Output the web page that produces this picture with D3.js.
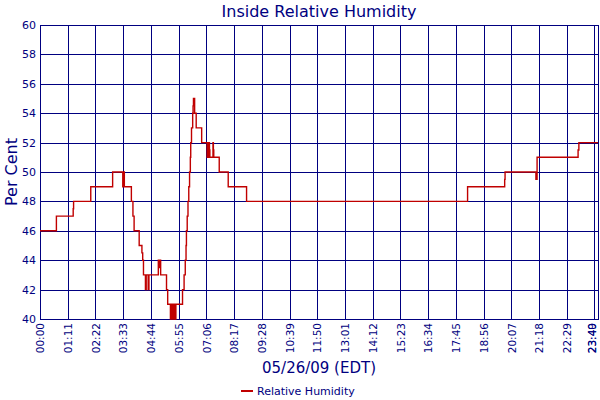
<!DOCTYPE html>
<html>
<head>
<meta charset="utf-8">
<script src="https://cdn.jsdelivr.net/npm/d3@7"></script>
<style>
  body { margin: 0; background: #fff; }
  svg text { font-family: Tahoma, "DejaVu Sans", sans-serif; fill: #000080; }
</style>
</head>
<body>
<div id="chart"></div>
<script>
// minutes after midnight of each reading change, and the humidity reading (%)
const minutes = [0, 42, 85, 86, 130, 186, 212, 213, 214, 215, 216, 234, 238, 241, 254, 261, 263, 265,
    270, 272, 277, 279, 303, 305, 306, 309, 324, 327, 334, 335, 337, 338, 340, 341, 344, 346, 347, 348,
    365, 369, 372, 374, 375, 377, 379, 381, 383, 385, 386, 388, 391, 392, 393, 394, 395, 396, 400,
    414, 428, 429, 431, 432, 434, 435, 443, 444, 445, 459, 482, 529, 1095, 1190, 1191, 1270, 1273,
    1378, 1380, 1429];
const humidity = [46, 47, 47.5, 48, 49, 50, 49, 50, 49.5, 50, 49, 48, 47, 46, 45, 44.5, 44, 43,
    42, 43, 42, 43, 44, 43.5, 44, 43, 42, 41, 40, 41, 40, 41, 40, 41, 40, 41, 40, 41,
    42, 43, 44, 45, 46, 47, 48, 49, 50, 51, 52, 53, 54, 54.5, 55, 54.5, 55, 54, 53,
    52, 51, 52, 51, 52, 51.5, 51, 52, 51.5, 51, 50, 49, 48, 49, 49.5, 50, 49.5, 51,
    51.5, 52, 52];

// x ticks every 71 minutes plus the last reading
const xTicks = [0, 71, 142, 213, 284, 355, 426, 497, 568, 639, 710, 781, 852, 923, 994, 1065,
    1136, 1207, 1278, 1349, 1420, 1429];
const yTicks = [40, 42, 44, 46, 48, 50, 52, 54, 56, 58, 60];

const chartTitle = "Inside Relative Humidity";
const xTitle = "05/26/09 (EDT)";
const yTitle = "Per Cent";
const seriesName = "Relative Humidity";

const W = 600, H = 400;
const margin = {top: 25, right: 2, bottom: 81, left: 40};
const width = W - margin.left - margin.right;
const height = H - margin.top - margin.bottom;
const navy = "#000080";
const red = "#c00000";

const data = minutes.map((m, i) => ({t: m, v: humidity[i]}));

const svg = d3.select("#chart").append("svg")
    .attr("width", W)
    .attr("height", H);

const g = svg.append("g")
    .attr("transform", "translate(" + margin.left + "," + margin.top + ")");

const x = d3.scaleLinear().domain([0, 1429]).range([0, width]);
const y = d3.scaleLinear().domain([40, 60]).range([height, 0]);

const fmt = m => d3.format("02d")(Math.floor(m / 60)) + ":" + d3.format("02d")(m % 60);

// grid
g.append("g").selectAll("line.h").data(yTicks).enter().append("line")
    .attr("x1", 0).attr("x2", width)
    .attr("y1", d => Math.round(y(d)) + 0.5).attr("y2", d => Math.round(y(d)) + 0.5)
    .attr("stroke", navy).attr("stroke-width", 1);

g.append("g").selectAll("line.v").data(xTicks).enter().append("line")
    .attr("y1", 0).attr("y2", height)
    .attr("x1", d => Math.round(x(d)) + 0.5).attr("x2", d => Math.round(x(d)) + 0.5)
    .attr("stroke", navy).attr("stroke-width", 1);

g.append("rect")
    .attr("x", 0.5).attr("y", 0.5)
    .attr("width", width).attr("height", height)
    .attr("fill", "none").attr("stroke", navy);

// axes (labels only)
const yAxis = d3.axisLeft(y).tickValues(yTicks).tickSize(0).tickPadding(4);
const yg = g.append("g").call(yAxis);
yg.select(".domain").remove();
yg.selectAll("text").style("font-size", "11px").attr("fill", navy);

const xAxis = d3.axisBottom(x).tickValues(xTicks).tickFormat(fmt).tickSize(0);
const xg = g.append("g")
    .attr("transform", "translate(0," + height + ")")
    .call(xAxis);
xg.select(".domain").remove();
xg.selectAll("text")
    .style("font-size", "10.5px")
    .attr("fill", navy)
    .attr("text-anchor", "end")
    .attr("transform", "rotate(-90)")
    .attr("x", -4)
    .attr("y", 0)
    .attr("dy", (d, i) => i === xTicks.length - 1 ? "-0.25em" : (i === xTicks.length - 2 ? "0.1em" : "0.35em"));

// humidity trace
const line = d3.line()
    .x(d => x(d.t))
    .y(d => y(d.v))
    .curve(d3.curveStepAfter);

g.append("path")
    .datum(data)
    .attr("fill", "none")
    .attr("stroke", red)
    .attr("stroke-width", 1.4)
    .attr("d", line);

// titles
svg.append("text")
    .attr("x", margin.left + width / 2)
    .attr("y", 17)
    .attr("text-anchor", "middle")
    .style("font-size", "16px")
    .text(chartTitle);

svg.append("text")
    .attr("x", margin.left + width / 2)
    .attr("y", 373)
    .attr("text-anchor", "middle")
    .style("font-size", "15px")
    .text(xTitle);

svg.append("text")
    .attr("transform", "translate(17," + (margin.top + height / 2) + ") rotate(-90)")
    .attr("text-anchor", "middle")
    .style("font-size", "16px")
    .text(yTitle);

// legend
svg.append("line")
    .attr("x1", 241).attr("x2", 253)
    .attr("y1", 391).attr("y2", 391)
    .attr("stroke", red).attr("stroke-width", 2);

svg.append("text")
    .attr("x", 257)
    .attr("y", 395)
    .style("font-size", "11px")
    .text(seriesName);
</script>
</body>
</html>
